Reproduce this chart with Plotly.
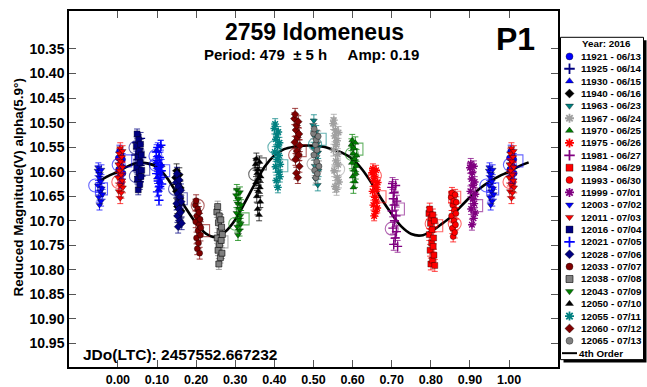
import plotly.graph_objects as go

# ---------------- data ----------------
session_ids = ["11921", "11925", "11930", "11940", "11963", "11967", "11970", "11975",
               "11981", "11984", "11993", "11999", "12003", "12011", "12016", "12021",
               "12028", "12033", "12038", "12043", "12050", "12055", "12060", "12065"]
session_dates = ["06/13", "06/14", "06/15", "06/16", "06/23", "06/24", "06/25", "06/26",
                 "06/27", "06/29", "06/30", "07/01", "07/02", "07/03", "07/04", "07/05",
                 "07/06", "07/07", "07/08", "07/09", "07/10", "07/11", "07/12", "07/13"]

ph_11921 = [0.001, 0.002, 0.004, 0.005, 0.006, 0.008, 0.009, 0.010, 0.012, 0.013]
mg_11921 = [10.572, 10.595, 10.558, 10.610, 10.584, 10.566, 10.622, 10.590, 10.575, 10.603]
ph_11925 = [0.046, 0.048, 0.049, 0.051, 0.053, 0.054, 0.056, 0.058, 0.059, 0.061]
mg_11925 = [10.566, 10.541, 10.598, 10.575, 10.620, 10.553, 10.587, 10.532, 10.609, 10.571]
ph_11930 = [0.097, 0.099, 0.100, 0.102, 0.104, 0.105, 0.107, 0.109, 0.110, 0.112]
mg_11930 = [10.581, 10.557, 10.612, 10.594, 10.636, 10.569, 10.620, 10.548, 10.603, 10.587]
ph_11940 = [0.147, 0.149, 0.150, 0.152, 0.154, 0.155, 0.157, 0.159, 0.160, 0.162]
mg_11940 = [10.612, 10.640, 10.598, 10.671, 10.625, 10.690, 10.606, 10.655, 10.633, 10.680]
ph_11963 = [0.499, 0.500, 0.501, 0.503, 0.504, 0.505, 0.507, 0.508, 0.509, 0.511, 0.512, 0.513]
mg_11963 = [10.505, 10.552, 10.496, 10.588, 10.530, 10.615, 10.518, 10.570, 10.543, 10.627, 10.561, 10.598]
ph_11967 = [0.550, 0.551, 0.552, 0.553, 0.554, 0.555, 0.556, 0.557, 0.558, 0.559, 0.560,
            0.561, 0.562, 0.563, 0.564, 0.565]
mg_11967 = [10.502, 10.556, 10.495, 10.598, 10.527, 10.630, 10.515, 10.578, 10.545, 10.636,
            10.537, 10.612, 10.565, 10.586, 10.520, 10.621]
ph_11970 = [0.597, 0.598, 0.599, 0.600, 0.601, 0.602, 0.603, 0.604, 0.605, 0.606, 0.607,
            0.608, 0.609, 0.610]
mg_11970 = [10.545, 10.582, 10.536, 10.610, 10.563, 10.632, 10.552, 10.596, 10.574, 10.620,
            10.541, 10.603, 10.588, 10.567]
ph_11975 = [0.650, 0.651, 0.652, 0.653, 0.654, 0.655, 0.656, 0.657, 0.658, 0.659, 0.660,
            0.661, 0.662, 0.663, 0.664]
mg_11975 = [10.602, 10.640, 10.594, 10.668, 10.618, 10.690, 10.610, 10.652, 10.629, 10.681,
            10.597, 10.660, 10.636, 10.674, 10.622]
ph_11981 = [0.700, 0.701, 0.702, 0.703, 0.704, 0.705, 0.706, 0.707, 0.708, 0.709, 0.710,
            0.711, 0.712, 0.713, 0.715]
mg_11981 = [10.632, 10.680, 10.624, 10.715, 10.655, 10.748, 10.643, 10.700, 10.668, 10.735,
            10.628, 10.690, 10.722, 10.660, 10.752]
ph_11984 = [0.795, 0.796, 0.797, 0.798, 0.799, 0.800, 0.801, 0.802, 0.803, 0.804, 0.805,
            0.806, 0.807, 0.808, 0.809, 0.810]
mg_11984 = [10.685, 10.728, 10.676, 10.760, 10.705, 10.788, 10.694, 10.745, 10.718, 10.780,
            10.688, 10.752, 10.735, 10.770, 10.700, 10.791]
ph_11993 = [0.852, 0.853, 0.854, 0.855, 0.856, 0.857, 0.858, 0.859, 0.860, 0.861, 0.862,
            0.863, 0.864, 0.865]
mg_11993 = [10.652, 10.690, 10.643, 10.715, 10.668, 10.732, 10.660, 10.700, 10.678, 10.724,
            10.647, 10.708, 10.685, 10.662]
ph_11999 = [0.900, 0.901, 0.902, 0.903, 0.904, 0.905, 0.906, 0.907, 0.908, 0.909, 0.910,
            0.911, 0.912, 0.913, 0.914]
mg_11999 = [10.592, 10.640, 10.584, 10.676, 10.615, 10.708, 10.602, 10.655, 10.628, 10.695,
            10.589, 10.665, 10.621, 10.684, 10.646]
ph_12003 = [0.948, 0.949, 0.950, 0.951, 0.952, 0.953, 0.954, 0.955, 0.956, 0.957, 0.958,
            0.959, 0.961]
mg_12003 = [10.598, 10.628, 10.592, 10.652, 10.612, 10.668, 10.605, 10.640, 10.620, 10.660,
            10.596, 10.634, 10.646]
ph_12011 = [0.000, 0.001, 0.002, 0.003, 0.004, 0.005, 0.006, 0.006, 0.007, 0.008, 0.009,
            0.010, 0.011, 0.012, 0.012, 0.013]
mg_12011 = [10.612, 10.585, 10.640, 10.563, 10.598, 10.627, 10.552, 10.654, 10.579, 10.606,
            10.643, 10.570, 10.618, 10.591, 10.558, 10.632]
ph_12016 = [0.047, 0.048, 0.049, 0.050, 0.051, 0.052, 0.053, 0.054, 0.055, 0.056, 0.057,
            0.058, 0.059, 0.060, 0.061]
mg_12016 = [10.548, 10.592, 10.523, 10.615, 10.570, 10.637, 10.535, 10.601, 10.558, 10.626,
            10.582, 10.544, 10.610, 10.566, 10.597]
ph_12021 = [0.098, 0.099, 0.100, 0.101, 0.102, 0.103, 0.104, 0.105, 0.106, 0.107, 0.108,
            0.109, 0.110, 0.111, 0.112]
mg_12021 = [10.560, 10.604, 10.577, 10.641, 10.551, 10.619, 10.592, 10.658, 10.571, 10.630,
            10.586, 10.612, 10.546, 10.598, 10.625]
ph_12028 = [0.149, 0.150, 0.151, 0.152, 0.153, 0.154, 0.155, 0.156, 0.157, 0.158, 0.159,
            0.160, 0.161, 0.162, 0.163]
mg_12028 = [10.622, 10.665, 10.604, 10.690, 10.645, 10.712, 10.630, 10.676, 10.617, 10.700,
            10.652, 10.683, 10.638, 10.661, 10.705]
ph_12033 = [0.198, 0.199, 0.200, 0.201, 0.202, 0.203, 0.204, 0.205, 0.206, 0.207, 0.208,
            0.209, 0.210, 0.211, 0.212]
mg_12033 = [10.668, 10.702, 10.659, 10.735, 10.690, 10.757, 10.676, 10.720, 10.745, 10.683,
            10.708, 10.766, 10.697, 10.729, 10.714]
ph_12038 = [0.253, 0.254, 0.255, 0.256, 0.257, 0.258, 0.259, 0.260, 0.261, 0.262, 0.263,
            0.264, 0.265, 0.266, 0.267]
mg_12038 = [10.682, 10.735, 10.671, 10.760, 10.704, 10.788, 10.690, 10.748, 10.722, 10.775,
            10.698, 10.740, 10.713, 10.766, 10.728]
ph_12043 = [0.302, 0.303, 0.304, 0.305, 0.306, 0.307, 0.308, 0.309, 0.310, 0.311, 0.312,
            0.313, 0.314, 0.315]
mg_12043 = [10.648, 10.684, 10.637, 10.712, 10.665, 10.729, 10.656, 10.698, 10.675, 10.720,
            10.642, 10.690, 10.706, 10.668]
ph_12050 = [0.352, 0.353, 0.354, 0.355, 0.356, 0.357, 0.358, 0.359, 0.360, 0.361, 0.362,
            0.363, 0.364, 0.365]
mg_12050 = [10.585, 10.622, 10.574, 10.650, 10.603, 10.676, 10.596, 10.640, 10.615, 10.688,
            10.580, 10.632, 10.661, 10.610]
ph_12055 = [0.400, 0.401, 0.402, 0.403, 0.404, 0.405, 0.406, 0.407, 0.408, 0.409, 0.410,
            0.411, 0.412, 0.413, 0.414, 0.415]
mg_12055 = [10.512, 10.560, 10.503, 10.590, 10.534, 10.618, 10.525, 10.575, 10.548, 10.632,
            10.519, 10.601, 10.567, 10.541, 10.610, 10.585]
ph_12060 = [0.451, 0.452, 0.453, 0.454, 0.455, 0.456, 0.457, 0.458, 0.459, 0.460, 0.461,
            0.462, 0.463, 0.464, 0.465]
mg_12060 = [10.492, 10.540, 10.483, 10.575, 10.515, 10.603, 10.506, 10.558, 10.530, 10.612,
            10.498, 10.566, 10.523, 10.589, 10.547]
ph_12065 = [0.500, 0.501, 0.502, 0.503, 0.505, 0.506, 0.507, 0.508, 0.509, 0.510, 0.512, 0.514]
mg_12065 = [10.522, 10.566, 10.513, 10.597, 10.545, 10.612, 10.535, 10.580, 10.556, 10.604,
            10.528, 10.589]

session_phases = [ph_11921, ph_11925, ph_11930, ph_11940, ph_11963, ph_11967, ph_11970,
                  ph_11975, ph_11981, ph_11984, ph_11993, ph_11999, ph_12003, ph_12011,
                  ph_12016, ph_12021, ph_12028, ph_12033, ph_12038, ph_12043, ph_12050,
                  ph_12055, ph_12060, ph_12065]
session_mags = [mg_11921, mg_11925, mg_11930, mg_11940, mg_11963, mg_11967, mg_11970,
                mg_11975, mg_11981, mg_11984, mg_11993, mg_11999, mg_12003, mg_12011,
                mg_12016, mg_12021, mg_12028, mg_12033, mg_12038, mg_12043, mg_12050,
                mg_12055, mg_12060, mg_12065]
session_errors = [0.012, 0.012, 0.012, 0.014, 0.012, 0.012, 0.012, 0.010, 0.012, 0.012, 0.011,
                  0.011, 0.010, 0.011, 0.010, 0.010, 0.013, 0.012, 0.011, 0.011, 0.012, 0.011,
                  0.012, 0.011]

# flagged observations (open circles / open squares)
ring_session = ["11921", "12011", "11925", "12016", "11930", "12021", "12028", "12033", "12043",
                "12050", "12055", "12060", "12065", "11963", "11967", "11970", "11975", "11981",
                "11984", "11993", "12003"]
ring_phase = [0.002, 0.001, 0.045, 0.046, 0.096, 0.097, 0.146, 0.204, 0.300, 0.351, 0.400,
              0.453, 0.500, 0.504, 0.563, 0.598, 0.657, 0.700, 0.802, 0.861, 0.942]
ring_mag = [10.586, 10.621, 10.551, 10.609, 10.568, 10.586, 10.635, 10.669, 10.706, 10.605,
            10.550, 10.566, 10.584, 10.544, 10.595, 10.564, 10.608, 10.716, 10.706, 10.706,
            10.628]
box_session = ["11921", "12016", "12021", "12028", "12033", "12038", "12043", "12050", "12055",
               "12060", "11963", "11970", "11975", "11981", "11984", "11993", "11999", "12003"]
box_phase = [0.020, 0.066, 0.117, 0.162, 0.219, 0.266, 0.320, 0.364, 0.419, 0.466, 0.517,
             0.611, 0.670, 0.717, 0.815, 0.861, 0.917, 0.958]
box_mag = [10.578, 10.595, 10.598, 10.655, 10.720, 10.743, 10.696, 10.584, 10.588, 10.557,
           10.534, 10.554, 10.651, 10.676, 10.710, 10.652, 10.669, 10.635]

# 4th order Fourier fit, sampled
curve_phase = [-0.05, -0.025, 0.00, 0.025, 0.05, 0.075, 0.10, 0.125, 0.15, 0.175, 0.20, 0.225,
               0.25, 0.275, 0.30, 0.325, 0.35, 0.375, 0.40, 0.425, 0.45, 0.475, 0.50, 0.525,
               0.55, 0.575, 0.60, 0.625, 0.65, 0.675, 0.70, 0.725, 0.75, 0.775, 0.80, 0.825,
               0.85, 0.875, 0.90, 0.925, 0.95, 0.975, 1.00, 1.025, 1.05]
curve_mag = [10.620, 10.609, 10.600, 10.589, 10.582, 10.583, 10.590, 10.612, 10.643, 10.676,
             10.705, 10.726, 10.733, 10.722, 10.698, 10.662, 10.625, 10.590, 10.567, 10.554,
             10.549, 10.547, 10.547, 10.549, 10.555, 10.562, 10.574, 10.596, 10.625, 10.657,
             10.686, 10.712, 10.727, 10.730, 10.722, 10.708, 10.693, 10.672, 10.652, 10.634,
             10.620, 10.609, 10.600, 10.589, 10.581]

x_tick_vals = [0.0, 0.1, 0.2, 0.3, 0.4, 0.5, 0.6, 0.7, 0.8, 0.9, 1.0]
x_tick_text = ["0.00", "0.10", "0.20", "0.30", "0.40", "0.50", "0.60", "0.70", "0.80", "0.90", "1.00"]
y_tick_vals = [10.35, 10.40, 10.45, 10.50, 10.55, 10.60, 10.65, 10.70, 10.75, 10.80, 10.85, 10.90, 10.95]
y_tick_text = ["10.35", "10.40", "10.45", "10.50", "10.55", "10.60", "10.65", "10.70", "10.75",
               "10.80", "10.85", "10.90", "10.95"]

# ---------------- styles ----------------
W, H = 647, 387
PL, PR, PT, PB = 69, 558, 11, 369          # plot frame in pixels
FONT = "Liberation Sans, Arial, sans-serif"

BLUE, NAVY, BLACK, TEAL = "#0000FF", "#000080", "#000000", "#008080"
GRAY, LGRAY, GREEN, RED = "#808080", "#A0A0A0", "#008000", "#FF0000"
PURPLE, DRED = "#800080", "#800000"

STYLE = {
    "11921": (BLUE, "circle"), "11925": (NAVY, "cross-thin"), "11930": (BLUE, "triangle-up"),
    "11940": (BLACK, "diamond"), "11963": (TEAL, "triangle-down"), "11967": (LGRAY, "asterisk"),
    "11970": (GREEN, "triangle-up"), "11975": (RED, "asterisk"), "11981": (PURPLE, "cross-thin"),
    "11984": (RED, "square"), "11993": (RED, "circle"), "11999": (PURPLE, "asterisk"),
    "12003": (BLUE, "triangle-down"), "12011": (RED, "triangle-down"), "12016": (NAVY, "square"),
    "12021": (BLUE, "cross-thin"), "12028": (NAVY, "diamond"), "12033": (DRED, "circle"),
    "12038": (GRAY, "square"), "12043": (GREEN, "triangle-down"), "12050": (BLACK, "triangle-up"),
    "12055": (TEAL, "asterisk"), "12060": (DRED, "diamond"), "12065": (GRAY, "circle"),
}
LINE_ONLY = ("cross-thin", "asterisk")


def rgba(hx, a):
    hx = hx.lstrip("#")
    r, g, b = int(hx[0:2], 16), int(hx[2:4], 16), int(hx[4:6], 16)
    return f"rgba({r},{g},{b},{a})"


def wrapped(ph, mg):
    """Repeat the ends of the cycle just outside 0..1."""
    xs, ys = list(ph), list(mg)
    for p, m in zip(ph, mg):
        if p < 0.03:
            xs.append(p + 1.0); ys.append(m)
        elif p > 0.94:
            xs.append(p - 1.0); ys.append(m)
    return xs, ys


def marker_style(sid, size_fill=6, size_line=6.5, lw=1.4):
    color, sym = STYLE[sid]
    if sym in LINE_ONLY:
        return dict(symbol=sym, size=size_line, color=color, line=dict(color=color, width=lw))
    edge = BLACK if sid == "12038" else rgba("#000000", 0.6)
    return dict(symbol=sym, size=size_fill, color=color, line=dict(color=edge, width=0.6))


fig = go.Figure()

# fitted curve underneath the observations
fig.add_trace(go.Scatter(x=curve_phase, y=curve_mag, mode="lines",
                         line=dict(color="black", width=2.6, shape="spline", smoothing=0.8),
                         showlegend=False, hoverinfo="skip"))

# flagged observations
for sess, ph, mg, sym, size in ((ring_session, ring_phase, ring_mag, "circle-open", 13),
                                (box_session, box_phase, box_mag, "square-open", 12)):
    for s, p, m in zip(sess, ph, mg):
        xs, ys = wrapped([p], [m])
        fig.add_trace(go.Scatter(x=xs, y=ys, mode="markers", showlegend=False, hoverinfo="skip",
                                 marker=dict(symbol=sym, size=size,
                                             color=rgba(STYLE[s][0], 0.6),
                                             line=dict(width=1.1, color=rgba(STYLE[s][0], 0.6)))))

# observations per session with error bars
for sid, ph, mg, err in zip(session_ids, session_phases, session_mags, session_errors):
    xs, ys = wrapped(ph, mg)
    color = STYLE[sid][0]
    fig.add_trace(go.Scatter(
        x=xs, y=ys, mode="markers", showlegend=False, name=sid,
        marker=marker_style(sid),
        error_y=dict(type="constant", value=err, color=rgba(color, 0.75), thickness=1, width=3),
    ))

# ---------------- legend panel (pixel coordinates on x2/y2) ----------------
LEG_X0, LEG_X1, LEG_Y0, LEG_Y1 = 560.5, 643.5, 37.5, 361.5
ROW0, ROW_STEP = 56.7, 12.43
SYM_X, TXT_X = 569.5, 578.5

shapes = [
    dict(type="rect", xref="x2", yref="y2", x0=LEG_X0 + 3, x1=LEG_X1 + 3, y0=LEG_Y0 + 3,
         y1=LEG_Y1 + 3, fillcolor="black", line=dict(width=0), layer="below"),
    dict(type="rect", xref="x2", yref="y2", x0=LEG_X0, x1=LEG_X1, y0=LEG_Y0, y1=LEG_Y1,
         fillcolor="white", line=dict(color="black", width=1), layer="below"),
    dict(type="line", xref="x2", yref="y2", x0=562, x1=577, y0=355, y1=355,
         line=dict(color="black", width=2)),
]

annotations = []
leg_font = dict(family=FONT, size=9.8, color="black", weight="bold")
annotations.append(dict(xref="x2", yref="y2", x=TXT_X + 1.5, y=43.5, text="Year: 2016",
                        showarrow=False, xanchor="left", yanchor="middle", font=leg_font))
for i, (sid, d) in enumerate(zip(session_ids, session_dates)):
    yy = ROW0 + ROW_STEP * i
    fig.add_trace(go.Scatter(x=[SYM_X], y=[yy], xaxis="x2", yaxis="y2", mode="markers",
                             showlegend=False, hoverinfo="skip",
                             marker=marker_style(sid, size_fill=7, size_line=7.5, lw=1.8)))
    annotations.append(dict(xref="x2", yref="y2", x=TXT_X, y=yy, text=f"{sid} - {d}",
                            showarrow=False, xanchor="left", yanchor="middle", font=leg_font))
annotations.append(dict(xref="x2", yref="y2", x=577, y=355, text="4th Order", showarrow=False,
                        xanchor="left", yanchor="middle", font=leg_font))

# ---------------- titles and labels ----------------
annotations += [
    dict(xref="x2", yref="y2", x=314, y=32, text="2759 Idomeneus", showarrow=False,
         xanchor="center", yanchor="middle",
         font=dict(family=FONT, size=23, color="black", weight="bold")),
    dict(xref="x2", yref="y2", x=311, y=55,
         text="Period: 479 \u00a0± 5\u00a0h \u00a0\u00a0\u00a0 Amp: 0.19", showarrow=False,
         xanchor="center", yanchor="middle",
         font=dict(family=FONT, size=15, color="black", weight="bold")),
    dict(xref="x2", yref="y2", x=515.5, y=39, text="P1", showarrow=False,
         xanchor="center", yanchor="middle",
         font=dict(family=FONT, size=32, color="black", weight="bold")),
    dict(xref="x2", yref="y2", x=81, y=356, text="JDo(LTC): 2457552.667232", showarrow=False,
         xanchor="left", yanchor="middle",
         font=dict(family=FONT, size=15.5, color="black", weight="bold")),
    dict(xref="x2", yref="y2", x=18.5, y=189, text="Reduced Magnitude(V) alpha(5.9°)",
         showarrow=False, textangle=-90, xanchor="center", yanchor="middle",
         font=dict(family=FONT, size=13.5, color="black", weight="bold")),
]

axis_common = dict(showgrid=False, zeroline=False, showline=True, linecolor="black",
                   linewidth=1.5, mirror="ticks", ticks="inside", ticklen=7, tickwidth=1,
                   tickcolor="#555555")

fig.update_layout(
    width=W, height=H,
    margin=dict(l=0, r=0, t=0, b=0),
    paper_bgcolor="white", plot_bgcolor="rgba(0,0,0,0)",
    showlegend=False,
    xaxis=dict(domain=[PL / W, PR / W], range=[-0.125, 1.125], tickmode="array",
               tickvals=x_tick_vals, ticktext=x_tick_text,
               tickfont=dict(family=FONT, size=12.5, color="black", weight="bold"),
               anchor="y", **axis_common),
    yaxis=dict(domain=[1 - PB / H, 1 - PT / H], range=[10.998, 10.2725], tickmode="array",
               tickvals=y_tick_vals, ticktext=y_tick_text,
               tickfont=dict(family=FONT, size=14, color="black", weight="bold"),
               anchor="x", **axis_common),
    xaxis2=dict(domain=[0, 1], range=[0, W], visible=False, anchor="y2", fixedrange=True),
    yaxis2=dict(domain=[0, 1], range=[H, 0], visible=False, anchor="x2", fixedrange=True),
    shapes=shapes,
    annotations=annotations,
)

fig.write_html("out.html")
